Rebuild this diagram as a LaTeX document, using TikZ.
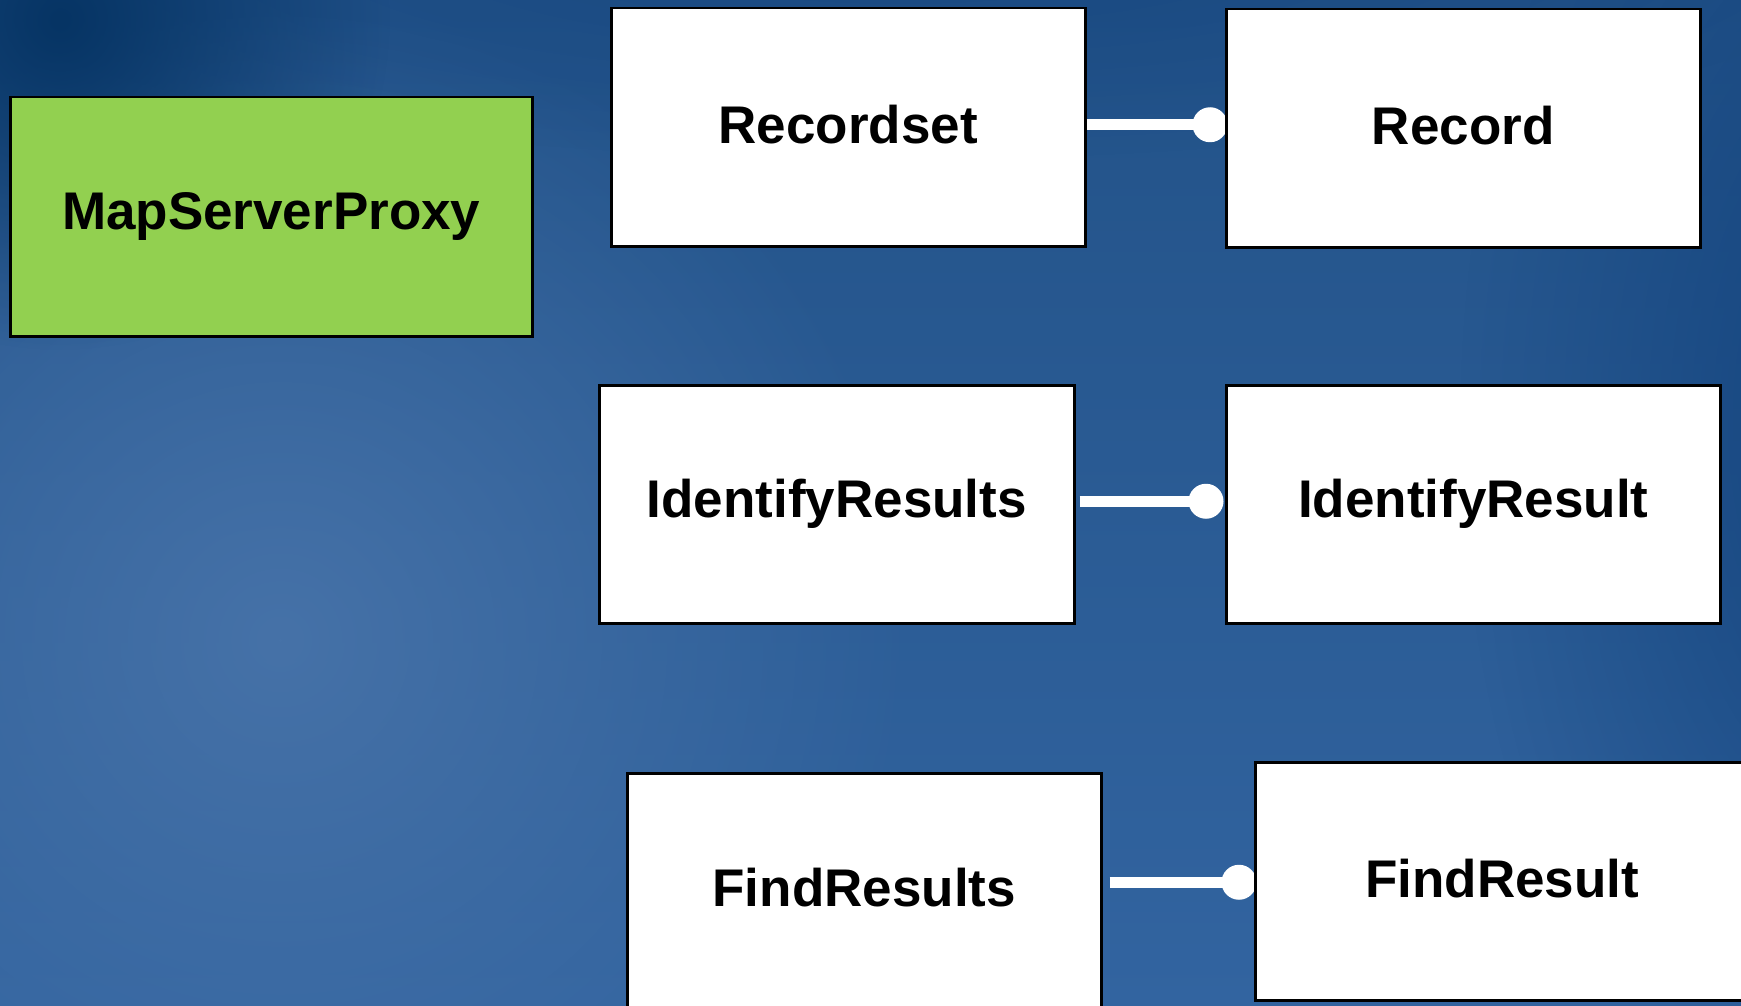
\documentclass[tikz,border=0pt]{standalone}
\usepackage{fontspec}
\setmainfont{Liberation Sans}
\usetikzlibrary{calc,fadings}
\tikzfading[name=softspot, inner color=transparent!0, outer color=transparent!100]
\pgfdeclarelayer{bg}
\pgfdeclarelayer{mid}
\pgfsetlayers{bg,mid,main}
\definecolor{skytop}{RGB}{34,82,136}
\definecolor{skybot}{RGB}{50,100,160}
\definecolor{skylight}{RGB}{70,114,168}
\definecolor{navy}{RGB}{6,52,100}
\definecolor{deepblue}{RGB}{20,68,126}
\definecolor{proxygreen}{RGB}{146,208,80}
\tikzset{
  classbox/.style={draw=black, line width=2.5pt, fill=white, anchor=north west,
    inner sep=0pt, font=\fontsize{53}{60}\selectfont\bfseries, text=black},
  conn/.style={draw=white, line width=11pt},
  knob/.style={fill=white},
}
\begin{document}
\begin{tikzpicture}[x=1pt, y=-1pt]
  \useasboundingbox (0,0) rectangle (1741,1006);
  \begin{pgfonlayer}{bg}
    % sky-blue backdrop built from soft overlays
    \fill[top color=skytop, bottom color=skybot] (0,0) rectangle (1741,1006);
    \fill[skylight, path fading=softspot] (280,640) circle (640);
    \fill[deepblue, path fading=softspot, opacity=0.7] (900,-60) ellipse (1000 and 220);
    \fill[navy, path fading=softspot] (60,20) circle (330);
    \fill[deepblue, path fading=softspot] (1880,420) ellipse (420 and 760);
  \end{pgfonlayer}

  \clip (0,0) rectangle (1741,1006);

  % class boxes
  \node[classbox, fill=proxygreen, minimum width=522pt, minimum height=239pt]
    (proxy) at (9,96) {MapServerProxy};
  \node[classbox, minimum width=474pt, minimum height=238pt]
    (recordset) at (610,7) {\raisebox{6pt}{Recordset}};
  \node[classbox, minimum width=474pt, minimum height=238pt]
    (record) at (1225,8) {\raisebox{6pt}{Record}};
  \node[classbox, minimum width=475pt, minimum height=238pt]
    (identifies) at (598,384) {IdentifyResults};
  \node[classbox, minimum width=494pt, minimum height=238pt]
    (identify) at (1225,384) {IdentifyResult};
  \node[classbox, minimum width=474pt, minimum height=240pt]
    (finds) at (626,772) {\raisebox{12pt}{FindResults}};
  \node[classbox, minimum width=494pt, minimum height=238pt]
    (find) at (1254,761) {\raisebox{5pt}{FindResult}};

  % aggregation connectors ending in a round knob
  \begin{pgfonlayer}{mid}
    \coordinate (k1) at ($(record.west)+(-15,-3.5)$);
    \draw[conn] (k1 -| recordset.east) -- (k1);
    \fill[knob] (k1) circle (17.5);

    \coordinate (k2) at ($(identify.west)+(-19,-3)$);
    \draw[conn] ($(k2 -| identifies.east)+(4,0)$) -- (k2);
    \fill[knob] (k2) circle (17.5);

    \coordinate (k3) at ($(find.west)+(-15,1)$);
    \draw[conn] ($(k3 -| finds.east)+(7,0)$) -- (k3);
    \fill[knob] (k3) circle (17.5);
  \end{pgfonlayer}
\end{tikzpicture}
\end{document}
